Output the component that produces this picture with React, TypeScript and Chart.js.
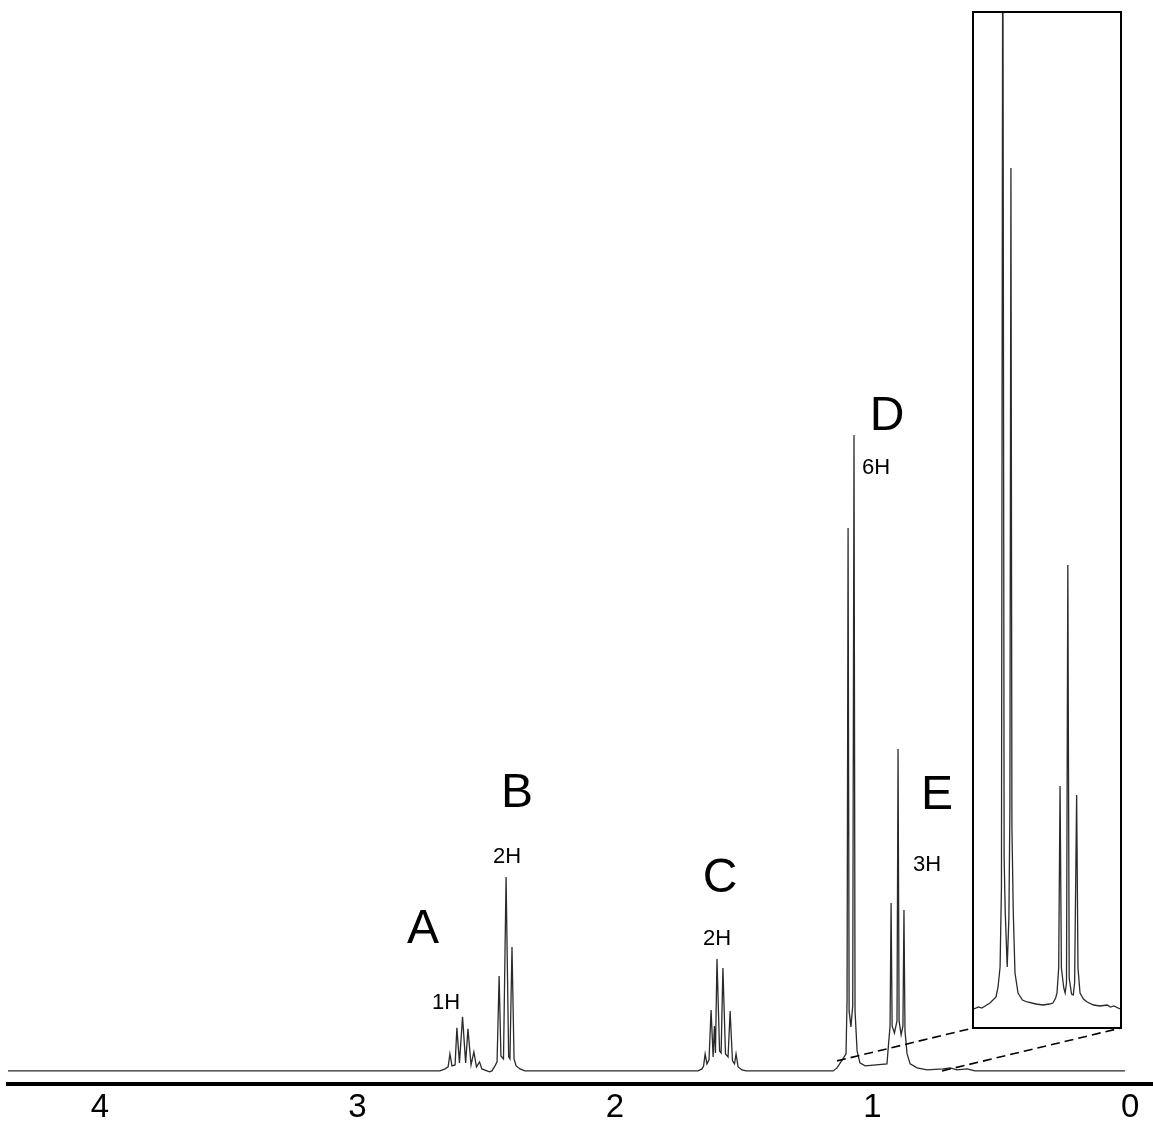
import React, { useEffect, useRef } from 'react';
import { Chart, registerables } from 'chart.js';

Chart.register(...registerables);

// ---- axis ----
const tickValues = [4, 3, 2, 1, 0];
const tickLabels = ['4', '3', '2', '1', '0'];
const axisLeftPpm = 4.357;
const axisRightPpm = -0.089;

// ---- main spectrum: [chemical shift (ppm), intensity] ----
const leadingBaseline: [number, number][] = [[4.357, 0], [3.2, 0], [2.68, 0]];
const multipletA: [number, number][] = [
  [2.660, 2], [2.648, 4], [2.641, 17], [2.633, 5], [2.621, 6], [2.614, 43], [2.604, 8],
  [2.592, 54], [2.580, 8], [2.571, 42], [2.559, 6], [2.548, 19], [2.538, 4], [2.526, 9],
  [2.517, 2], [2.497, 0], [2.487, -1],
];
const multipletB: [number, number][] = [
  [2.478, 0], [2.466, 5], [2.458, 9], [2.450, 95], [2.443, 15], [2.433, 12], [2.423, 194],
  [2.413, 14], [2.408, 12], [2.400, 124], [2.392, 12], [2.384, 5], [2.369, 2], [2.350, 0],
];
const middleBaseline: [number, number][] = [[2.0, 0], [1.678, 0]];
const multipletC: [number, number][] = [
  [1.662, 2], [1.656, 5], [1.650, 17], [1.643, 7], [1.635, 11], [1.627, 61], [1.619, 14],
  [1.614, 45], [1.610, 18], [1.604, 112], [1.594, 20], [1.588, 18], [1.581, 103], [1.571, 17],
  [1.561, 14], [1.553, 60], [1.544, 10], [1.536, 7], [1.530, 17], [1.522, 4], [1.507, 1], [1.491, 0],
];
const gapBaseline: [number, number][] = [[1.3, 0], [1.204, 0], [1.153, 0]];
const multipletD: [number, number][] = [
  [1.138, 3], [1.115, 12], [1.103, 17], [1.099, 70], [1.095, 543], [1.091, 60], [1.084, 44],
  [1.077, 65], [1.072, 636], [1.068, 60], [1.060, 20], [1.049, 8], [1.029, 5], [0.944, 7],
];
const multipletE: [number, number][] = [
  [0.940, 20], [0.932, 45], [0.928, 168], [0.924, 45], [0.915, 38], [0.905, 50], [0.901, 322],
  [0.897, 50], [0.889, 36], [0.882, 45], [0.878, 161], [0.874, 40], [0.866, 17], [0.854, 7],
  [0.827, 3], [0.788, 1], [0.726, 2], [0.699, 3], [0.672, 1], [0.633, 2], [0.602, 0],
];
const trailingBaseline: [number, number][] = [[0.3, 0], [0.02, 0]];

// ---- inset (expanded D / E region) ----
const insetLeftPpm = 1.183;
const insetRightPpm = 0.752;
const insetSpectrum: [number, number][] = [
  [1.183, -1], [1.170, 1], [1.160, 0], [1.150, 2], [1.136, 5], [1.118, 11], [1.112, 21],
  [1.106, 41], [1.102, 120], [1.098, 1150], [1.094, 150], [1.091, 98], [1.085, 41], [1.080, 90],
  [1.077, 200], [1.074, 840], [1.071, 180], [1.067, 95], [1.062, 35], [1.053, 15], [1.040, 8],
  [1.026, 6], [1.000, 4], [0.979, 3], [0.960, 4], [0.950, 5], [0.942, 10], [0.938, 15],
  [0.933, 40], [0.929, 222], [0.925, 40], [0.918, 20], [0.914, 15], [0.910, 25], [0.906, 443],
  [0.902, 30], [0.895, 14], [0.890, 13], [0.886, 25], [0.880, 213], [0.876, 40], [0.870, 15],
  [0.860, 9], [0.849, 6], [0.830, 3], [0.811, 2], [0.790, 3], [0.780, 1], [0.770, 2], [0.752, -1],
];

// ---- annotations (text, ppm, intensity at text baseline) ----
const peakLetters = ['A', 'B', 'C', 'D', 'E'];
const letterPpm = [2.746, 2.381, 1.592, 0.944, 0.750];
const letterHeight = [128, 264, 179, 641, 262];
const protonCounts = ['1H', '2H', '2H', '6H', '3H'];
const protonPpm = [2.656, 2.419, 1.604, 0.986, 0.788];
const protonHeight = [62, 208, 126, 597, 200];

// start points (on main spectrum) of the dashed zoom connectors
const connectorPpm = [1.138, 0.730];
const connectorHeight = [10, 0];

const W = 1153;
const H = 1123;
const CANVAS_H = 1132;
const INSET = { left: 972, top: 11, innerW: 146, innerH: 1014, border: 2 };
const FONT = "'Liberation Sans', Arial, sans-serif";
const LINE_COLOR = '#2a2a2a';

const toXY = (pts: [number, number][]) => pts.map(([x, y]) => ({ x, y }));

export default function App() {
  const mainRef = useRef<HTMLCanvasElement>(null);
  const insetRef = useRef<HTMLCanvasElement>(null);

  useEffect(() => {
    document.body.style.margin = '0';
    const spectrum = [
      ...leadingBaseline, ...multipletA, ...multipletB, ...middleBaseline, ...multipletC,
      ...gapBaseline, ...multipletD, ...multipletE, ...trailingBaseline,
    ];

    const overlay = {
      id: 'overlay',
      afterDatasetsDraw(chart: any) {
        const { ctx, scales } = chart;
        const x = scales.x;
        const y = scales.y;
        ctx.save();
        ctx.fillStyle = '#000';
        ctx.textAlign = 'center';
        ctx.textBaseline = 'alphabetic';
        ctx.font = `48px ${FONT}`;
        peakLetters.forEach((t, i) => {
          ctx.fillText(t, x.getPixelForValue(letterPpm[i]), y.getPixelForValue(letterHeight[i]));
        });
        ctx.font = `22px ${FONT}`;
        protonCounts.forEach((t, i) => {
          ctx.fillText(t, x.getPixelForValue(protonPpm[i]), y.getPixelForValue(protonHeight[i]));
        });
        // dashed connectors to the inset box corners
        const boxBottom = INSET.top + INSET.innerH + 2 * INSET.border - 1;
        const corners = [INSET.left + 1, INSET.left + INSET.innerW + 2 * INSET.border - 1];
        ctx.strokeStyle = '#000';
        ctx.lineWidth = 1.6;
        ctx.setLineDash([9, 5]);
        connectorPpm.forEach((p, i) => {
          ctx.beginPath();
          ctx.moveTo(x.getPixelForValue(p), y.getPixelForValue(connectorHeight[i]));
          ctx.lineTo(corners[i], boxBottom);
          ctx.stroke();
        });
        ctx.restore();
      },
    };

    const main = new Chart(mainRef.current!, {
      type: 'line',
      data: {
        datasets: [{
          data: toXY(spectrum),
          borderColor: LINE_COLOR,
          borderWidth: 1.3,
          pointRadius: 0,
          tension: 0,
          fill: false,
        }],
      },
      options: {
        animation: false,
        responsive: false,
        devicePixelRatio: 1,
        layout: { padding: { left: 8, right: 0, top: 12, bottom: 0 } },
        plugins: { legend: { display: false }, tooltip: { enabled: false } },
        events: [],
        scales: {
          x: {
            type: 'linear',
            reverse: true,
            min: axisRightPpm,
            max: axisLeftPpm,
            afterBuildTicks: (s: any) => { s.ticks = tickValues.map((v) => ({ value: v })); },
            ticks: {
              color: '#000',
              font: { family: FONT, size: 33 },
              padding: 4,
              maxRotation: 0,
              autoSkip: false,
              callback: (v: any) => tickLabels[tickValues.indexOf(Number(v))] ?? '',
            },
            grid: { display: false, drawTicks: false },
            border: { display: true, color: '#000', width: 4 },
          },
          y: { type: 'linear', display: false, min: -13.5, max: 1059 },
        },
      },
      plugins: [overlay],
    });

    const inset = new Chart(insetRef.current!, {
      type: 'line',
      data: {
        datasets: [{
          data: toXY(insetSpectrum),
          borderColor: LINE_COLOR,
          borderWidth: 1.3,
          pointRadius: 0,
          tension: 0,
          fill: false,
        }],
      },
      options: {
        animation: false,
        responsive: false,
        devicePixelRatio: 1,
        layout: { padding: 0 },
        plugins: { legend: { display: false }, tooltip: { enabled: false } },
        events: [],
        scales: {
          x: { type: 'linear', display: false, reverse: true, min: insetRightPpm, max: insetLeftPpm },
          y: { type: 'linear', display: false, min: -19, max: 995 },
        },
      },
    });

    return () => {
      main.destroy();
      inset.destroy();
    };
  }, []);

  return (
    <div style={{ position: 'relative', width: W, height: H, overflow: 'hidden', background: '#fff' }}>
      <canvas ref={mainRef} width={W} height={CANVAS_H} style={{ position: 'absolute', left: 0, top: 0 }} />
      <div
        style={{
          position: 'absolute',
          left: INSET.left,
          top: INSET.top,
          width: INSET.innerW,
          height: INSET.innerH,
          border: `${INSET.border}px solid #000`,
          background: '#fff',
        }}
      >
        <canvas ref={insetRef} width={INSET.innerW} height={INSET.innerH} style={{ display: 'block' }} />
      </div>
    </div>
  );
}
